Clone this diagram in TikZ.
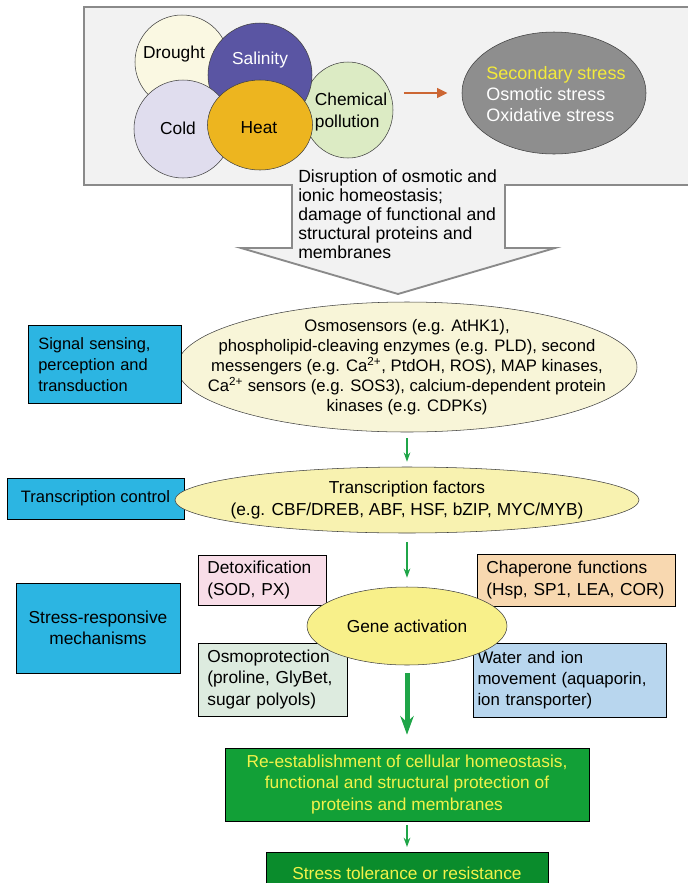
\documentclass[tikz,border=0pt]{standalone}
\usepackage{fontspec}
\setmainfont{Liberation Sans}
\usetikzlibrary{arrows.meta,shapes.geometric}
\definecolor{cBOX}{HTML}{F2F2F2}
\definecolor{cEDGE}{HTML}{8A8A8A}
\definecolor{cDRO}{HTML}{FAF8E2}
\definecolor{cSAL}{HTML}{5A55A3}
\definecolor{cCOL}{HTML}{E0DDEE}
\definecolor{cHEA}{HTML}{EDB51F}
\definecolor{cCHE}{HTML}{DCEBC4}
\definecolor{cGRY}{HTML}{8E8E8E}
\definecolor{cYEL}{HTML}{F4EB3A}
\definecolor{cORA}{HTML}{CC6633}
\definecolor{cOSM}{HTML}{F8F5D8}
\definecolor{cTF}{HTML}{F8F2B0}
\definecolor{cGEN}{HTML}{F8F08A}
\definecolor{cSIDE}{HTML}{2CB5E2}
\definecolor{cDET}{HTML}{F8DDE8}
\definecolor{cCHA}{HTML}{F8D8B0}
\definecolor{cOSP}{HTML}{DDEBDF}
\definecolor{cWAT}{HTML}{B8D6EE}
\definecolor{cGA}{HTML}{1FA548}
\definecolor{cRE}{HTML}{12A037}
\definecolor{cST}{HTML}{0A8C2C}
\definecolor{cTXT}{HTML}{F2F24A}

\begin{document}
\begin{tikzpicture}[x=0.75pt, y=-0.75pt, font=\fontsize{13}{16}\selectfont,
  e/.style={draw=black!75, ellipse, inner sep=0pt},
  side/.style={draw, fill=cSIDE, inner sep=0pt},
  sub/.style={draw, align=left, inner xsep=7pt, inner ysep=0pt},
  res/.style={draw, text=cTXT, align=center, inner sep=0pt},
  ga/.style={-{Stealth[length=7pt,width=5pt]}, cGA, line width=1.1pt}]
\useasboundingbox (0,0) rectangle (688,883);
% stress box with the big arrow
\draw[draw=cEDGE, fill=cBOX, line width=1.4pt] (292,185) -- (84,185) -- (84,7) -- (694,7) -- (694,185) -- (505,185) -- (505,248) -- (555,248) -- (398,294) -- (241,248) -- (292,248) -- cycle;
\foreach \n/\x/\y/\w/\h/\c in {drought/182/62/70.5/70.5/cDRO, chem/348/110/67.5/72/cCHE, salin/260/75/78/78/cSAL, cold/183/129/73.5/73.5/cCOL, heat/260/125/78.75/67.5/cHEA}
  \node[e, fill=\c, minimum width=\w pt, minimum height=\h pt] (\n) at (\x,\y) {};
\node (tdro) at (174,54) {Drought};
\node[text=white] (tsal) at (260,60) {Salinity};
\node (tcol) at (178,128) {Cold};
\node (thea) at (259,128) {Heat};
\node[align=left] (tche) at (351,112) {Chemical\\pollution};
\node[e, fill=cGRY, minimum width=138pt, minimum height=91.5pt] (sec) at (554,93) {};
\node[align=left, text=white, font=\fontsize{13.5}{15.75}\selectfont] (sectext) at (556,94) {\textcolor{cYEL}{Secondary stress}\\Osmotic stress\\Oxidative stress};
\draw[-{Triangle[length=8pt,width=7pt]}, cORA, line width=2.2pt, shorten <=8pt, shorten >=10.5pt] (sec.west -| chem.east) -- (sec.west);
\node[anchor=west, align=left, inner sep=0pt, font=\fontsize{13.2}{14.3}\selectfont] (disr) at (298,214) {Disruption of osmotic and\\ionic homeostasis;\\damage of functional and\\structural proteins and\\membranes};
% signalling
\node[e, fill=cOSM, minimum width=345pt, minimum height=97.5pt] (osmo) at (407,367) {};
\node[align=center, font=\fontsize{12.5}{15}\selectfont] (osmotext) at (osmo) {Osmosensors (e.g. AtHK1),\\phospholipid-cleaving enzymes (e.g. PLD), second\\messengers (e.g. Ca\textsuperscript{2+}, PtdOH, ROS), MAP kinases,\\Ca\textsuperscript{2+} sensors (e.g. SOS3), calcium-dependent protein\\kinases (e.g. CDPKs)};
\node[side, align=left, text width=100pt, inner xsep=7.5pt, minimum height=58.5pt, font=\fontsize{12.3}{15.75}\selectfont] (sig) at (105,364.5) {Signal sensing,\\perception and\\transduction};
\node[side, minimum width=132.75pt, minimum height=30.75pt, font=\fontsize{12.4}{15}\selectfont] (tc) at (95.5,498.5) {Transcription control};
\node[e, fill=cTF, minimum width=348pt, minimum height=49.5pt] (tf) at (407,500) {};
\node[align=center, font=\fontsize{13}{16.5}\selectfont] (tftext) at (tf) {Transcription factors\\(e.g. CBF/DREB, ABF, HSF, bZIP, MYC/MYB)};
% responses
\node[side, align=center, minimum width=123pt, minimum height=67.5pt] (srm) at (98,628) {Stress-responsive\\mechanisms};
\node[sub, fill=cDET, text width=82pt, minimum height=37.5pt] (detox) at (262,580) {Detoxification\\(SOD, PX)};
\node[sub, fill=cCHA, text width=134.5pt, minimum height=39pt] (chap) at (576,580) {Chaperone functions\\(Hsp, SP1, LEA, COR)};
\node[sub, fill=cOSP, text width=97.75pt, minimum height=54.75pt] (osmop) at (272.5,679.5) {Osmoprotection\\(proline, GlyBet,\\sugar polyols)};
\node[sub, fill=cWAT, text width=138pt, inner xsep=3.4pt, minimum height=55.5pt, font=\fontsize{12.6}{16}\selectfont] (water) at (569.5,680) {Water and ion\\movement (aquaporin,\\ion transporter)};
\node[e, fill=cGEN, minimum width=150pt, minimum height=58.5pt] (gene) at (407,626) {};
\node (genetext) at (gene) {Gene activation};
\node[res, fill=cRE, minimum width=273pt, minimum height=54.75pt] (reest) at (407,784.5) {Re-establishment of cellular homeostasis,\\functional and structural protection of\\proteins and membranes};
\node[res, fill=cST, minimum width=211.5pt, minimum height=32pt, anchor=north] (stol) at (407,852) {Stress tolerance or resistance};
% arrows
\draw[ga, shorten <=4.5pt, shorten >=3.75pt] (osmo.south) -- (tf.north);
\draw[ga, shorten <=6.75pt, shorten >=6.75pt] (tf.south) -- (gene.north);
\draw[-{Stealth[length=14pt,width=10pt]}, cGA, line width=3.75pt, shorten <=6pt, shorten >=9.75pt] (gene.south) -- (reest.north);
\draw[ga, shorten <=3pt, shorten >=3.75pt] (reest.south) -- (stol.north);
\end{tikzpicture}
\end{document}
